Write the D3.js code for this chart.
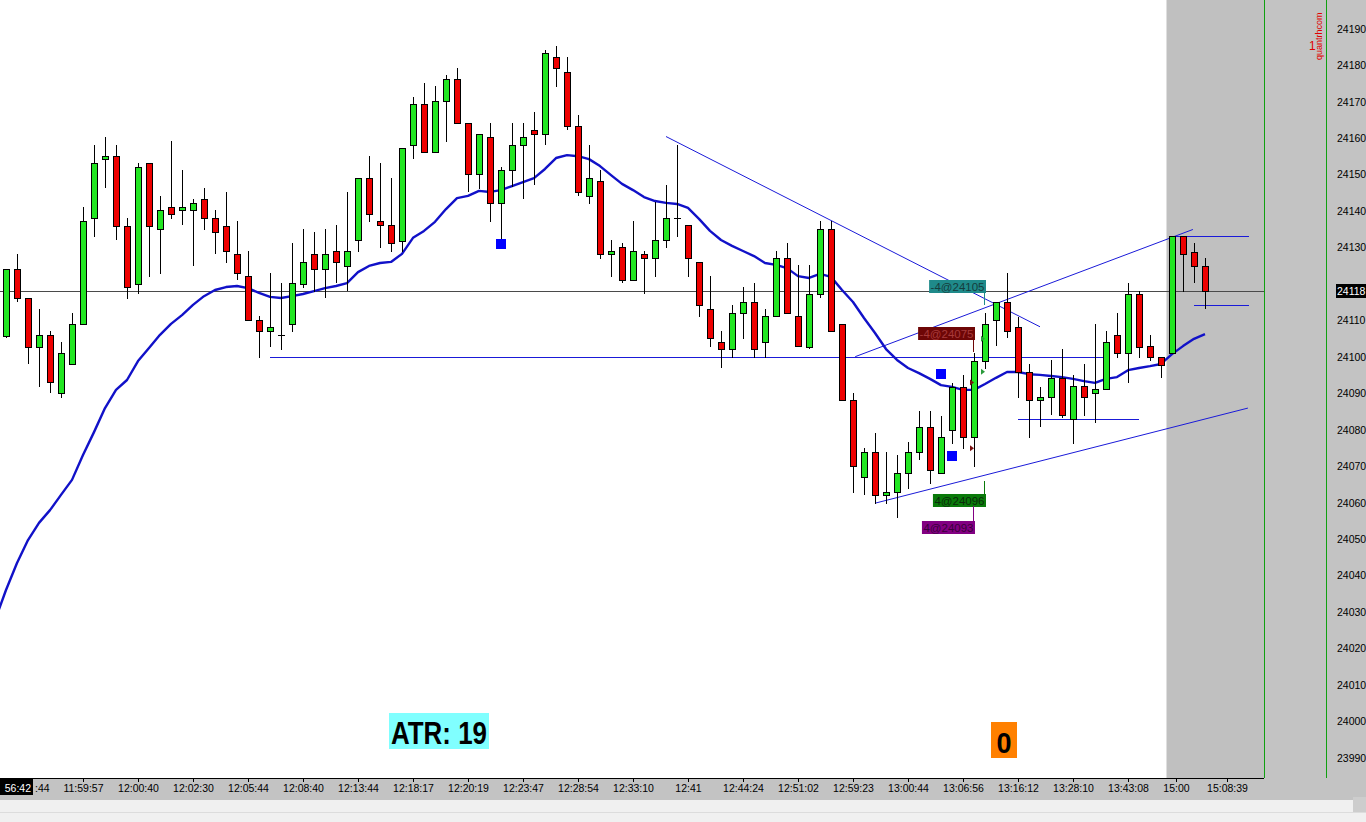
<!DOCTYPE html>
<html><head><meta charset="utf-8">
<script src="https://cdn.jsdelivr.net/npm/d3@7"></script>
<style>html,body{margin:0;padding:0;background:#f0f0f0;overflow:hidden}svg{display:block}</style>
</head><body><svg id="c" width="1366" height="822"></svg>
<script>
// ---------------- DATA ----------------
const opens  = [24105.9,24124.1,24116.1,24102.8,24106.0,24090.1,24098.0,24109.0,24138.1,24154.3,
                24155.2,24136.0,24120.1,24153.2,24135.0,24141.1,24140.3,24140.3,24143.3,24138.1,
                24136.0,24128.2,24122.2,24110.1,24107.1,24106.0,24109.0,24120.0,24128.2,24124.1,
                24129.1,24125.1,24132.0,24149.0,24137.2,24136.1,24131.9,24158.2,24169.3,24156.2,
                24170.2,24176.3,24164.1,24150.1,24160.3,24142.2,24151.2,24158.1,24162.3,24161.1,
                24182.2,24178.1,24163.3,24144.2,24148.2,24128.2,24130.1,24121.1,24128.2,24127.1,
                24132.0,24138.1,24136.1,24126.0,24113.1,24104.0,24102.1,24112.0,24115.0,24104.0,
                24111.2,24127.1,24111.2,24102.8,24117.2,24135.0,24109.0,24088.1,24067.0,24074.0,
                24062.1,24062.9,24068.1,24074.0,24080.9,24068.1,24080.0,24091.9,24078.0,24099.0,
                24110.2,24115.0,24108.2,24096.0,24088.1,24089.0,24094.2,24082.9,24092.1,24090.1,
                24091.2,24106.0,24101.0,24117.2,24103.0,24099.9,24101.0,24133.2,24128.9,24125.1];
const highs  = [24124.1,24128.3,24116.1,24113.2,24107.1,24104.1,24112.1,24141.1,24158.2,24160.5,
                24158.2,24138.1,24153.2,24153.2,24144.2,24159.3,24151.3,24143.3,24146.3,24140.3,
                24145.2,24137.3,24129.1,24111.3,24123.0,24120.2,24131.2,24135.1,24134.2,24135.0,
                24136.2,24145.2,24149.0,24155.2,24153.2,24149.0,24157.3,24171.3,24175.3,24174.4,
                24177.4,24179.2,24164.1,24161.1,24164.1,24152.1,24164.1,24164.1,24167.1,24184.2,
                24185.3,24182.2,24166.3,24158.1,24151.3,24132.1,24131.2,24137.3,24129.0,24142.6,
                24147.2,24158.2,24136.1,24126.0,24122.2,24107.1,24114.3,24119.1,24120.2,24113.1,
                24129.2,24131.2,24125.3,24125.3,24137.3,24137.3,24109.0,24090.1,24075.0,24079.1,
                24074.0,24073.1,24076.8,24085.2,24085.2,24083.9,24093.0,24095.1,24101.0,24112.0,
                24115.2,24123.0,24111.1,24098.1,24091.9,24099.2,24102.2,24095.1,24098.1,24109.1,
                24107.1,24112.0,24120.2,24118.0,24106.0,24099.9,24133.2,24133.2,24131.2,24127.1];
const lows   = [24105.4,24115.4,24098.3,24092.1,24090.3,24089.1,24098.0,24109.0,24133.3,24146.6,
                24132.3,24116.3,24117.5,24122.3,24123.1,24138.2,24136.4,24125.3,24135.2,24128.5,
                24126.2,24121.3,24110.1,24100.1,24103.1,24102.2,24107.1,24119.3,24118.0,24116.6,
                24120.5,24118.4,24129.2,24137.4,24130.3,24129.2,24129.2,24154.5,24156.2,24156.2,
                24159.4,24164.1,24145.6,24146.5,24137.4,24132.1,24147.0,24143.6,24147.4,24158.4,
                24174.4,24162.5,24144.4,24142.2,24127.3,24122.3,24120.5,24121.1,24117.5,24122.3,
                24130.3,24133.2,24122.3,24111.3,24103.1,24097.4,24100.1,24105.3,24100.1,24100.1,
                24111.2,24112.0,24103.0,24102.4,24116.4,24107.1,24088.1,24063.1,24062.3,24060.0,
                24060.0,24056.2,24064.2,24072.0,24065.4,24068.1,24076.3,24075.0,24070.2,24096.9,
                24103.3,24105.4,24089.1,24078.1,24081.2,24084.3,24083.5,24076.3,24084.1,24082.3,
                24091.2,24100.1,24093.2,24100.1,24099.2,24094.4,24101.0,24118.1,24120.5,24113.4];
const closes = [24124.1,24116.1,24102.8,24106.0,24093.1,24101.0,24109.0,24137.2,24153.2,24155.2,
                24136.0,24119.1,24152.1,24136.0,24140.3,24139.2,24141.1,24142.2,24138.1,24134.2,
                24129.0,24123.0,24110.1,24107.1,24108.2,24106.0,24120.2,24126.0,24124.1,24128.2,
                24126.0,24129.1,24149.0,24139.2,24136.1,24131.2,24157.3,24169.3,24156.2,24170.2,
                24176.3,24164.1,24150.1,24161.1,24142.2,24151.2,24158.1,24160.3,24161.1,24183.3,
                24179.2,24163.4,24145.3,24149.0,24128.2,24129.0,24121.1,24129.0,24127.1,24132.0,
                24138.1,24138.1,24127.1,24114.2,24105.1,24102.1,24112.0,24115.0,24102.1,24111.2,
                24127.1,24112.0,24103.0,24117.2,24135.0,24107.1,24088.1,24070.0,24074.0,24062.1,
                24062.9,24068.1,24074.0,24080.9,24069.0,24078.0,24091.9,24078.0,24099.0,24109.0,
                24115.0,24107.1,24096.0,24088.1,24089.0,24094.2,24084.0,24092.1,24089.0,24091.2,
                24104.0,24101.0,24117.2,24102.8,24099.9,24097.8,24133.2,24128.3,24125.1,24118.0];
// moving average, first value belongs to the bar just left of the visible range (index -1)
const maValues = [24027.8,
                24036.1,24043.5,24049.8,24054.5,24058.0,24062.2,24066.3,24073.1,24079.4,24086.0,
                24091.0,24093.7,24098.9,24102.5,24106.1,24109.1,24111.5,24114.3,24116.7,24118.4,
                24119.2,24119.5,24118.9,24117.6,24116.5,24116.2,24116.7,24117.3,24118.1,24118.9,
                24119.5,24120.3,24123.3,24125.0,24125.8,24126.1,24128.3,24132.7,24134.6,24137.1,
                24140.6,24143.6,24144.2,24145.6,24145.3,24145.8,24146.9,24148.0,24149.1,24151.6,
                24154.6,24155.4,24155.1,24154.3,24152.4,24149.9,24147.5,24145.8,24143.9,24142.8,
                24142.3,24142.0,24140.9,24137.9,24134.6,24132.1,24130.5,24129.1,24127.7,24125.8,
                24125.3,24124.4,24122.2,24121.7,24122.8,24122.0,24118.4,24115.1,24110.7,24106.6,
                24102.2,24099.2,24097.0,24095.6,24094.0,24092.3,24091.8,24091.0,24091.0,24092.6,
                24094.3,24095.9,24095.9,24095.3,24095.1,24094.8,24094.5,24094.0,24093.4,24092.9,
                24094.0,24094.5,24096.4,24097.0,24097.5,24098.1,24100.8,24103.0,24105.0,24106.3];
const maFirstIdx = -1;
const priceTicks = [24190,24180,24170,24160,24150,24140,24130,24120,24110,24100,24090,
                    24080,24070,24060,24050,24040,24030,24020,24010,24000,23990];
const lastPrice = 24118;
const timeTickIdx = [2,7,12,17,22,27,32,37,42,47,52,57,62,67,72,77,82,87,92,97,102,106.4,111];
const timeTickLabels = [":44","11:59:57","12:00:40","12:02:30","12:05:44","12:08:40","12:13:44",
  "12:18:17","12:20:19","12:23:47","12:28:54","12:33:10","12:41","12:44:24","12:51:02","12:59:23",
  "13:00:44","13:06:56","13:16:12","13:28:10","13:43:08","15:00","15:08:39"];
const crosshairTime = "56:42";
// drawn lines: [index1, price1, index2, price2]
const drawnLines = [
  [60.0,24160.5, 94.0,24108.3],
  [77.2,24100.1,107.9,24135.0],
  [79.0,24059.9,112.9,24086.0],
  [24.0,24100.0,100.0,24100.0],
  [92.0,24082.9,103.0,24082.9],
  [105.8,24133.2,113.0,24133.2],
  [108.0,24114.2,113.0,24114.2]
];
const signalIdx   = [45, 85, 86];
const signalPrice = [24131.0, 24095.3, 24072.9];
const fillIdx   = [89, 88, 89, 88];
const fillQty   = [-4, -4, 4, 4];
const fillPrice = [24105, 24075, 24096, 24093];
const atrValue = 19;
const counterValue = 0;
const sessionStartIdx = 105.5;

// ---------------- LAYOUT / STYLE ----------------
const svg = d3.select('#c');
const plotR = 1264, plotB = 778;
const x = d3.scaleLinear().domain([0,109]).range([6,1205]);
const y = d3.scaleLinear().domain([23990,24190]).range([758,29]);
const UP='#22e622', DN='#ee0000';
const fontAxis = '"Liberation Sans", Arial, sans-serif';

svg.append('rect').attr('width',1366).attr('height',822).attr('fill','#f0f0f0');
svg.append('rect').attr('x',0).attr('y',0).attr('width',1366).attr('height',800).attr('fill','#c3c3c3');
svg.append('rect').attr('x',0).attr('y',0).attr('width',plotR).attr('height',plotB).attr('fill','#ffffff');
svg.append('rect').attr('x',x(sessionStartIdx)).attr('y',0).attr('width',plotR-x(sessionStartIdx)).attr('height',plotB).attr('fill','#c0c0c0');
svg.append('line').attr('x1',0).attr('x2',1366).attr('y1',812.5).attr('y2',812.5).attr('stroke','#dcdcdc');
svg.append('rect').attr('x',1353).attr('y',797).attr('width',13).attr('height',15).attr('fill','#cdcdcd');

const plot = svg.append('g');
plot.append('clipPath').attr('id','pc').append('rect').attr('width',plotR).attr('height',plotB);
const pg = plot.append('g').attr('clip-path','url(#pc)');

// last price line
const yl = Math.round(y(lastPrice))+0.5;
pg.append('line').attr('x1',0).attr('x2',plotR).attr('y1',yl).attr('y2',yl).attr('stroke','#4a4a4a');

// drawn lines
drawnLines.forEach(d=>{
  const horiz = d[1]===d[3];
  const ya = horiz ? Math.round(y(d[1]))+0.5 : y(d[1]);
  const yb = horiz ? Math.round(y(d[3]))+0.5 : y(d[3]);
  pg.append('line').attr('x1',x(d[0])).attr('y1',ya).attr('x2',x(d[2])).attr('y2',yb)
    .attr('stroke','#1a1ad8').attr('stroke-width',1);
});

// MA
pg.append('path').datum(maValues)
  .attr('d', d3.line().x((d,i)=>x(i+maFirstIdx)).y(d=>y(d)))
  .attr('fill','none').attr('stroke','#1111c8').attr('stroke-width',2.4).attr('stroke-linejoin','round');

// candles
const cg = pg.append('g').attr('shape-rendering','crispEdges');
opens.forEach((o,i)=>{
  const c=closes[i], h=highs[i], l=lows[i];
  const xs=Math.round(x(i)), cx=xs+0.5;
  cg.append('line').attr('x1',cx).attr('x2',cx).attr('y1',Math.round(y(h))).attr('y2',Math.round(y(l))+1).attr('stroke','#000');
  const top=Math.round(y(Math.max(o,c)))+0.5, bot=Math.round(y(Math.min(o,c)))+0.5;
  if (Math.abs(c-o)<0.05) {
    cg.append('line').attr('x1',xs-3).attr('x2',xs+4).attr('y1',top).attr('y2',top).attr('stroke','#000');
  } else {
    cg.append('rect').attr('x',xs-2.5).attr('y',top).attr('width',6).attr('height',Math.max(1,bot-top))
      .attr('fill', c>o?UP:DN).attr('stroke','#000').attr('stroke-width',1);
  }
});

// signals
signalIdx.forEach((si,k)=>{
  pg.append('rect').attr('x',Math.round(x(si))-5).attr('y',Math.round(y(signalPrice[k]))-5)
    .attr('width',10).attr('height',10).attr('fill','#0000ff');
});

// fills: markers + labels
const labelStyle = [
  {bg:'#1f8a8a', fg:'#163c3c', top:280, conn:[293,305], mk:'#2a9a3a'},
  {bg:'#6e0606', fg:'#a83a3a', top:327, conn:[340,352], mk:'#7a1010'},
  {bg:'#0a7a0a', fg:'#0b2a0b', top:494, conn:[481,494], mk:'#2a9a3a'},
  {bg:'#820082', fg:'#3a003a', top:521, conn:[506,521], mk:'#7a1010'}
];
fillIdx.forEach((fi,k)=>{
  const st = labelStyle[k];
  const xs = Math.round(x(fi));
  const yy = y(fillPrice[k]);
  pg.append('path').attr('d',`M${xs-4},${yy-3}L${xs},${yy}L${xs-4},${yy+3}Z`).attr('fill',st.mk);
  const txt = (fillQty[k]>0?'':'-') + Math.abs(fillQty[k]) + '@' + fillPrice[k];
  const t = pg.append('text').attr('font-family',fontAxis).attr('font-size',11.5).text(txt);
  const w = t.node().getComputedTextLength();
  const right = xs+1, left = right - w - 3;
  pg.insert('rect','text').attr('x',left).attr('y',st.top).attr('width',w+3).attr('height',13).attr('fill',st.bg);
  t.attr('x',left+1.5).attr('y',st.top+11).attr('fill',st.fg);
  t.raise();
  pg.append('line').attr('x1',xs-0.5).attr('x2',xs-0.5).attr('y1',st.conn[0]).attr('y2',st.conn[1]).attr('stroke',st.bg);
});

// ATR box
svg.append('rect').attr('x',389).attr('y',713).attr('width',100).attr('height',36).attr('fill','#80ffff');
svg.append('text').attr('x',391).attr('y',744).attr('font-family',fontAxis).attr('font-weight','bold')
  .attr('font-size',32).attr('textLength',96).attr('lengthAdjust','spacingAndGlyphs').attr('fill','#000')
  .text('ATR: '+atrValue);
// counter box
svg.append('rect').attr('x',991).attr('y',722).attr('width',26).attr('height',36).attr('fill','#ff8000');
svg.append('text').attr('x',1004).attr('y',753).attr('text-anchor','middle').attr('font-family',fontAxis)
  .attr('font-weight','bold').attr('font-size',30).attr('textLength',15).attr('lengthAdjust','spacingAndGlyphs')
  .attr('fill','#000').text(counterValue);

// frame lines
svg.append('line').attr('x1',0).attr('x2',plotR).attr('y1',plotB+0.5).attr('y2',plotB+0.5).attr('stroke','#000');
[1264.5,1326.5].forEach(gx=>svg.append('line').attr('x1',gx).attr('x2',gx).attr('y1',0).attr('y2',plotB).attr('stroke','#10a010'));

// right axis
priceTicks.forEach(p=>{
  if (Math.abs(y(p)-y(lastPrice))<12) return; // hidden behind the last-price tag, as in the source
  svg.append('text').attr('x',1337).attr('y',y(p)).attr('dy','0.35em').attr('font-family',fontAxis)
    .attr('font-size',10.5).attr('fill','#000').text(p);
});
svg.append('rect').attr('x',1336).attr('y',yl-7.5).attr('width',30).attr('height',14).attr('fill','#000');
svg.append('text').attr('x',1337).attr('y',yl).attr('dy','0.35em').attr('font-family',fontAxis)
  .attr('font-size',10.5).attr('fill','#fff').text(lastPrice);

// x axis
timeTickIdx.forEach((ti,k)=>{
  const tx = Math.round(x(ti))+0.5;
  svg.append('line').attr('x1',tx).attr('x2',tx).attr('y1',plotB).attr('y2',plotB+4).attr('stroke','#000');
  const first = k===0;
  svg.append('text').attr('x',first?35:tx).attr('y',792).attr('text-anchor',first?'start':'middle').attr('font-family',fontAxis)
    .attr('font-size',10.5).attr('fill','#000').text(timeTickLabels[k]);
});
svg.append('rect').attr('x',0).attr('y',779).attr('width',33).attr('height',16).attr('fill','#000');
svg.append('text').attr('x',31).attr('y',792).attr('text-anchor','end').attr('font-family',fontAxis)
  .attr('font-size',10.5).attr('fill','#fff').text(crosshairTime);

// top-right red marks
svg.append('text').attr('x',1309).attr('y',50).attr('font-family',fontAxis).attr('font-size',12).attr('fill','#e00000').text('1');
svg.append('text').attr('transform','translate(1322,60) rotate(-90)').attr('font-family',fontAxis)
  .attr('font-size',9).attr('fill','#e00000').text('quantrhcom');
</script></body></html>
